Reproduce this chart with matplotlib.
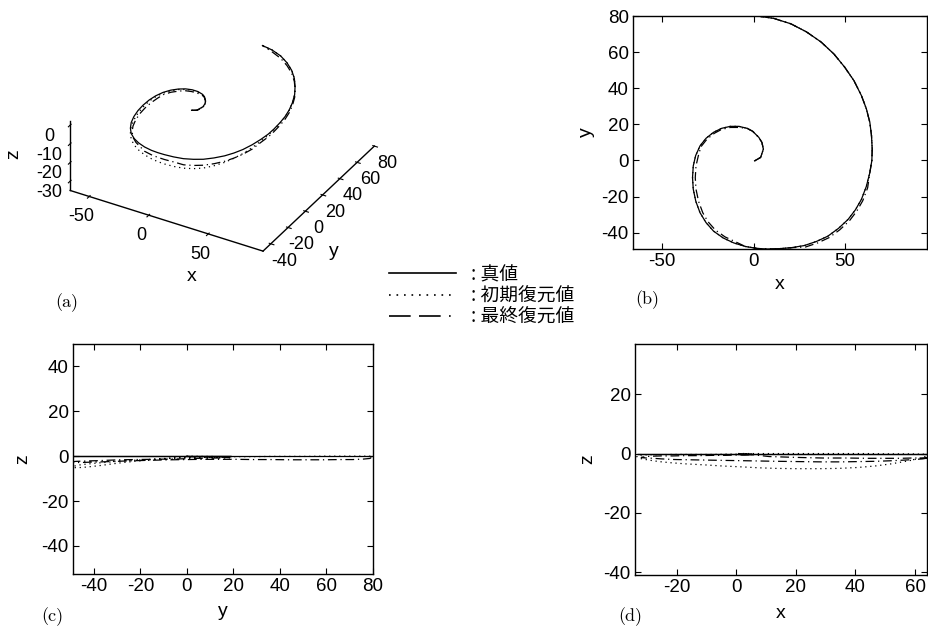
import numpy as np
import matplotlib
matplotlib.use("Agg")
import matplotlib.pyplot as plt
from matplotlib.lines import Line2D

plt.rcParams['font.family'] = ['Liberation Sans', 'DejaVu Sans']
plt.rcParams['axes.unicode_minus'] = False

# spiral, from the centre outwards
x_true = [0.6, 3.9, 5.4, 4.6, 2.9, -0.5, -3.5, -8.0, -12.7, -17.5,
          -21.9, -26.0, -29.3, -31.7, -33.0, -33.4, -33.0, -31.6, -29.3, -26.0,
          -21.9, -16.6, -10.9, -4.5, 2.0, 7.5, 13.1, 20.5, 27.8, 34.5,
          40.7, 46.5, 51.8, 55.8, 59.1, 61.8, 63.7, 64.8, 65.0, 64.6,
          63.7, 61.8, 59.1, 55.0, 49.9, 44.0, 37.0, 29.0, 20.4, 11.0, 2.0]
y_true = [-0.2, 1.7, 6.3, 10.0, 12.8, 16.2, 17.8, 18.9, 18.9, 17.8,
          15.6, 12.3, 8.1, 2.7, -3.0, -9.5, -15.9, -22.6, -28.9, -34.4,
          -39.1, -42.9, -45.6, -47.6, -48.7, -49.0, -48.9, -48.3, -47.1, -44.8,
          -41.9, -37.6, -32.6, -27.3, -21.5, -14.3, -6.7, 0.0, 6.3, 13.8,
          21.1, 28.6, 35.9, 44.2, 51.7, 59.0, 65.6, 71.2, 75.7, 78.7, 80.0]
z_true = [0.0] * len(x_true)

# initial reconstruction (dotted): same xy, z sags under the outer loop
z_init = [0.0, 0.0, -0.1, -0.1, -0.2, -0.2, -0.2, -0.3, -0.3, -0.3,
          -0.3, -0.4, -0.4, -0.5, -0.6, -1.0, -1.4, -1.8, -2.2, -2.7,
          -3.1, -3.5, -3.8, -4.2, -4.5, -4.8, -5.0, -5.1, -5.1, -5.0,
          -4.7, -4.2, -3.5, -2.8, -2.2, -1.5, -0.9, -0.6, -0.4, -0.3,
          -0.2, -0.2, -0.1, -0.1, -0.1, 0.0, 0.0, 0.0, 0.0, 0.0, 0.0]

# final reconstruction (dash-dot): small xy offsets from the true curve
dx_final = [0, 0, 0, 0, 0, 0, 0, 0, 0, 0,
            0.5, 0.5, 0.5, 1.5, 1.5, 1.5, 1.5, 1.5, 1.5, 1.0,
            1.0, 1.0, 1.0, 0, 0, 0, 0, 0, 0.7, 0.7,
            0.7, 0.7, 0.7, 0.7, 0.7, 0.7, 0, 0, 0, 0,
            0, 0, 0, 0, 0, 0, 0, 0, 0, 0, 0]
dy_final = [0, 0, 0, 0, 0, 0, 0, -0.6, -0.6, -0.6,
            -0.5, -0.5, -0.5, 0, 0, 0, 0, 0, 0, 0.6,
            0.6, 0.6, 0.6, 0, 0, 0, 0, 0, -0.8, -0.8,
            -0.8, -0.8, -0.8, -0.8, -0.8, -0.8, 0, 0, 0, 0,
            0, 0, 0, 0, 0, 0, 0, 0, 0, 0, 0]
z_final = [0.0, -0.2, -0.3, -0.4, -0.5, -0.5, -0.6, -0.6, -0.7, -0.7,
           -0.8, -0.8, -0.9, -1.0, -1.2, -1.3, -1.4, -1.5, -1.6, -1.8,
           -2.0, -2.1, -2.2, -2.3, -2.4, -2.5, -2.6, -2.7, -2.8, -2.8,
           -2.7, -2.6, -2.4, -2.2, -2.0, -1.8, -1.6, -1.5, -1.4, -1.4,
           -1.4, -1.5, -1.5, -1.6, -1.6, -1.6, -1.5, -1.5, -1.3, -1.0, 0.0]

labels = [': 真値', ': 初期復元値', ': 最終復元値']

xt = np.array(x_true)
yt = np.array(y_true)
xf = xt + np.array(dx_final)
yf = yt + np.array(dy_final)

series = [
    (xt, yt, z_true, dict(ls='-')),
    (xt, yt, z_init, dict(ls=(0, (1, 3)))),
    (xf, yf, z_final, dict(ls=(0, (7, 3, 1, 3)))),
]

fig = plt.figure(figsize=(9.29, 6.41), dpi=100)
W, H = 929, 641


def place(l, t, r, b):
    return [l / W, 1 - b / H, (r - l) / W, (b - t) / H]


def style2d(ax):
    ax.tick_params(direction='in', top=True, right=True, length=4,
                   width=0.8, labelsize=13.5, pad=3)
    for s in ax.spines.values():
        s.set_linewidth(1.0)


# (a) 3-D view
ax3 = fig.add_axes(place(-6, -20, 442, 296), projection='3d')
ax3.set_proj_type('ortho')
ax3.view_init(elev=33, azim=-60)
ax3.set_box_aspect((1, 1, 0.37))
for a in (ax3.xaxis, ax3.yaxis, ax3.zaxis):
    a.pane.set_visible(False)
    a.line.set_linewidth(1.0)
ax3.zaxis.set_ticks_position('lower')
ax3.grid(False)
for xs, ys, zs, st in series:
    ax3.plot(xs, ys, zs, color='k', lw=0.9, **st)
ax3.set_xlim(-66, 96)
ax3.set_ylim(-49, 80)
ax3.set_zlim(-35, 2)
ax3.set_xticks([-50, 0, 50])
ax3.set_yticks([-40, -20, 0, 20, 40, 60, 80])
ax3.set_zticks([0, -10, -20, -30])
ax3.tick_params(labelsize=13, pad=0)
fig.text(192 / W, 1 - 277 / H, 'x', fontsize=14, ha='center', va='center')
fig.text(334 / W, 1 - 252 / H, 'y', fontsize=14, ha='center', va='center')
fig.text(14 / W, 1 - 154 / H, 'z', fontsize=14, ha='center', va='center',
         rotation=90)

# (b) x-y
axb = fig.add_axes(place(633, 16, 927, 249))
for xs, ys, zs, st in series:
    axb.plot(xs, ys, color='k', lw=0.9, **st)
axb.set_xlim(-66, 95)
axb.set_ylim(min(y_true), max(y_true))
axb.set_xticks([-50, 0, 50])
axb.set_yticks([-40, -20, 0, 20, 40, 60, 80])
axb.set_xlabel('x', fontsize=14, labelpad=4)
axb.set_ylabel('y', fontsize=14, labelpad=5)
style2d(axb)

# (c) y-z
axc = fig.add_axes(place(73, 344, 373, 574))
for xs, ys, zs, st in series:
    axc.plot(ys, zs, color='k', lw=0.9, **st)
axc.set_xlim(min(y_true), max(y_true))
axc.set_ylim(-52.5, 50)
axc.set_xticks([-40, -20, 0, 20, 40, 60, 80])
axc.set_yticks([-40, -20, 0, 20, 40])
axc.set_xlabel('y', fontsize=14, labelpad=6)
axc.set_ylabel('z', fontsize=14, labelpad=7)
style2d(axc)

# (d) x-z
axd = fig.add_axes(place(635, 344, 927, 575))
for xs, ys, zs, st in series:
    axd.plot(xs, zs, color='k', lw=0.9, **st)
axd.set_xlim(-34, 64)
axd.set_ylim(-41, 37)
axd.set_xticks([-20, 0, 20, 40, 60])
axd.set_yticks([-40, -20, 0, 20])
axd.set_xlabel('x', fontsize=14, labelpad=6)
axd.set_ylabel('z', fontsize=14, labelpad=5)
style2d(axd)

# legend in the middle
handles = [Line2D([], [], color='k', lw=1.2, ls='-'),
           Line2D([], [], color='k', lw=1.2, ls=(0, (1, 3.5))),
           Line2D([], [], color='k', lw=1.2, ls=(0, (13, 5, 13, 5, 1, 5)))]
fig.legend(handles, labels, loc='upper left',
           bbox_to_anchor=(389 / W, 1 - 264 / H), frameon=False,
           handlelength=3.6, handletextpad=0.75, labelspacing=0.02,
           borderpad=0, borderaxespad=0,
           prop={'family': ['Noto Sans CJK JP', 'DejaVu Sans'], 'size': 13.5})

# panel letters
for lab, px, py in [('(a)', 67, 303), ('(b)', 647, 300),
                    ('(c)', 52, 617), ('(d)', 630, 617)]:
    fig.text(px / W, 1 - py / H, lab, fontsize=13, family='cmr10',
             ha='center', va='center')

fig.savefig('out.png', dpi=100)
